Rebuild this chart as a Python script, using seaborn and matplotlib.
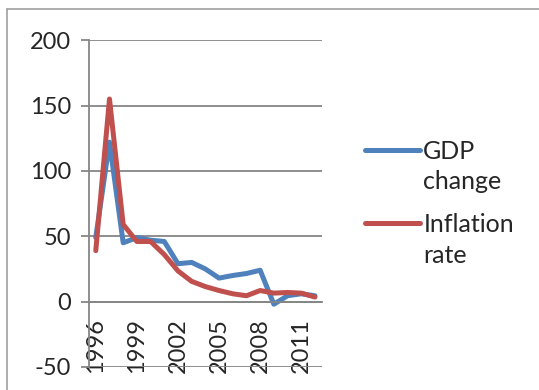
import numpy as np
import pandas as pd
import matplotlib
matplotlib.use("Agg")
import matplotlib.pyplot as plt
import seaborn as sns
from matplotlib.lines import Line2D
from matplotlib.legend_handler import HandlerLine2D

years = list(range(1996, 2013))
gdp_change = [49, 122, 45, 49, 47, 46, 29, 30, 25, 18, 20, 21.5, 24, -2, 4.5, 6, 4.5]
inflation_rate = [39, 155, 59, 46, 46, 36, 23.5, 15.5, 11.5, 8.5, 6, 4.5, 8.5, 6.5, 7, 6.5, 3.5]
series_names = ["GDP\nchange", "Inflation\nrate"]
colors = ["#4F81BD", "#C0504D"]

df = pd.DataFrame({
    "pos": list(range(len(years))) * 2,
    "value": gdp_change + inflation_rate,
    "series": [series_names[0]] * len(years) + [series_names[1]] * len(years),
})

sns.set_style("white")
plt.rcParams["font.family"] = ["Lato", "DejaVu Sans"]
plt.rcParams["axes.unicode_minus"] = False

fig = plt.figure(figsize=(5.39, 3.90), dpi=100)
ax = fig.add_axes([0.165, 0.059, 0.432, 0.838])

sns.lineplot(data=df, x="pos", y="value", hue="series", palette=colors,
             linewidth=3.6, ax=ax, legend=False)

grey = "#868686"
ax.set_ylim(-50, 200)
ax.set_yticks(range(-50, 201, 50))
ax.set_xlim(-0.5, len(years) - 0.5)
ax.grid(axis="y", color=grey, linewidth=1.3)
ax.set_axisbelow(True)

for s in ["top", "right"]:
    ax.spines[s].set_visible(False)
ax.spines["left"].set_color(grey)
ax.spines["left"].set_linewidth(1.3)
ax.spines["bottom"].set_position(("data", 0))
ax.spines["bottom"].set_color(grey)
ax.spines["bottom"].set_linewidth(1.3)
ax.set_xlabel("")
ax.set_ylabel("")

ax.set_xticks(range(0, len(years), 3))
ax.set_xticklabels([str(y) for y in years[::3]])
ax.set_xticks(np.arange(-0.5, len(years), 1), minor=True)
ax.tick_params(axis="x", which="major", length=0, pad=12, labelsize=17, labelrotation=90)
ax.tick_params(axis="x", which="minor", length=5, width=1.3, color=grey, direction="out")
ax.tick_params(axis="y", length=6, width=1.3, color=grey, labelsize=17, pad=7, left=True)


class TopLineHandler(HandlerLine2D):
    # put the legend line next to the first line of a two-line label
    def create_artists(self, legend, orig_handle, xdescent, ydescent,
                       width, height, fontsize, trans):
        artists = super().create_artists(legend, orig_handle, xdescent, ydescent,
                                         width, height, fontsize, trans)
        for a in artists:
            a.set_ydata(np.asarray(a.get_ydata()) + 0.7 * fontsize)
        return artists


handles = [Line2D([], [], color=c, linewidth=3.6, solid_capstyle="round") for c in colors]
leg = fig.legend(handles, series_names, loc="upper left", bbox_to_anchor=(0.636, 0.70),
                 frameon=False, fontsize=18, handlelength=2.2, handletextpad=0.12,
                 labelspacing=0.8, handler_map={Line2D: TopLineHandler()})
for t in leg.get_texts():
    t.set_linespacing(1.4)

# chart area border (left and top edges visible)
fig.add_artist(Line2D([0.013, 0.013], [0.0, 0.977], color="#A0A0A0", linewidth=1.2))
fig.add_artist(Line2D([0.013, 1.0], [0.977, 0.977], color="#A0A0A0", linewidth=1.2))

fig.savefig("out.png", dpi=100)
